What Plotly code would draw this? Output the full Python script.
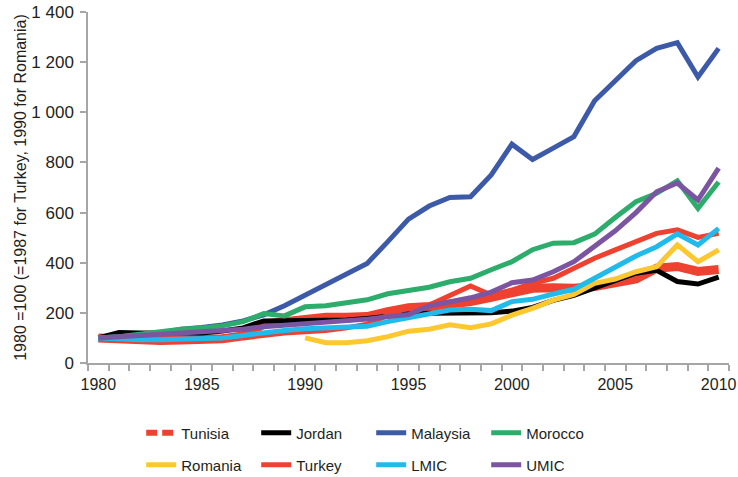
import plotly.graph_objects as go

years = list(range(1980, 2011))

tunisia = [100, 95, 90, 90, 92, 93, 97, 108, 155, 165,
           178, 182, 182, 185, 205, 220, 225, 232, 245, 262,
           280, 298, 300, 298, 305, 322, 335, 378, 385, 365, 373]
jordan = [100, 122, 120, 120, 122, 120, 128, 140, 168, 168,
          170, 172, 172, 178, 188, 195, 198, 200, 200, 200,
          207, 222, 250, 270, 300, 330, 358, 370, 325, 315, 343]
malaysia = [100, 105, 110, 120, 135, 142, 152, 168, 192, 228,
            270, 310, 352, 397, 484, 574, 626, 660, 663, 750,
            873, 812, 857, 903, 1046, 1129, 1206, 1255, 1278, 1141, 1255]
morocco = [100, 105, 115, 125, 135, 140, 148, 165, 197, 188,
           224, 228, 240, 252, 276, 291, 302, 324, 338, 372,
           404, 452, 478, 480, 514, 580, 643, 677, 727, 617, 722]
romania = [None] * 10 + [100, 81, 81, 89, 105, 127, 135, 152, 141, 156,
                         191, 218, 251, 274, 318, 335, 364, 384, 471, 404, 451]
turkey = [None] * 7 + [100, 112, 120,
                       125, 130, 140, 155, 190, 222, 231, 271, 307, 271,
                       291, 318, 338, 378, 418, 451, 484, 517, 531, 501, 517]
lmic = [100, 95, 93, 93, 94, 95, 100, 110, 122, 130,
        137, 139, 140, 147, 165, 180, 198, 211, 214, 209,
        245, 254, 275, 294, 338, 384, 427, 464, 515, 471, 537]
umic = [100, 105, 108, 112, 118, 122, 126, 135, 145, 150,
        158, 160, 165, 175, 185, 193, 228, 245, 260, 283,
        320, 331, 364, 404, 466, 527, 600, 683, 718, 650, 777]

x_tick_years = [1980, 1985, 1990, 1995, 2000, 2005, 2010]
y_ticks = [0, 200, 400, 600, 800, 1000, 1200, 1400]

RED = "#EE4130"
series = [
    ("Jordan", jordan, "#000000", "legend"),
    ("Malaysia", malaysia, "#3C5AA8", "legend"),
    ("Morocco", morocco, "#2DAD6C", "legend"),
    ("Romania", romania, "#FDC82F", "legend2"),
    ("Turkey", turkey, RED, "legend2"),
    ("LMIC", lmic, "#20BBEB", "legend2"),
    ("UMIC", umic, "#7B54A2", "legend2"),
]

FONT = "Liberation Sans, Arial, Helvetica, sans-serif"
TXT = "#231F20"
AX = "#A6A6A6"
fig = go.Figure()

# Tunisia: legend entry (dashed) + drawn line (thick)
fig.add_trace(go.Scatter(x=[None], y=[None], mode="lines", name="Tunisia",
                         line=dict(color=RED, width=6, dash="11px,5px"),
                         legend="legend"))
fig.add_trace(go.Scatter(x=years, y=tunisia, mode="lines", name="Tunisia",
                         line=dict(color=RED, width=9), showlegend=False))
for name, vals, col, lg in series:
    fig.add_trace(go.Scatter(x=years, y=vals, mode="lines", name=name,
                             line=dict(color=col, width=5), legend=lg,
                             connectgaps=False))

legend_common = dict(orientation="h", xanchor="left", yanchor="middle",
                     entrywidth=70, entrywidthmode="pixels",
                     font=dict(family=FONT, size=15, color=TXT),
                     bgcolor="rgba(0,0,0,0)", traceorder="normal")

fig.update_layout(
    template="none",
    width=738, height=477,
    paper_bgcolor="white", plot_bgcolor="white",
    margin=dict(l=88, r=9, t=12, b=114, autoexpand=False),
    separators=". ",
    font=dict(family=FONT, size=15, color=TXT),
    xaxis=dict(range=[1979.5, 2010.5], tickvals=x_tick_years,
               automargin=False,
               ticks="outside", ticklen=6, tickcolor="rgba(0,0,0,0)",
               showline=True, linecolor=AX, linewidth=1.5,
               showgrid=False, zeroline=False,
               tickfont=dict(family=FONT, size=16, color=TXT),
               minor=dict(tickvals=[y + 0.5 for y in range(1979, 2011)],
                          ticks="outside", ticklen=6, tickcolor=AX,
                          tickwidth=1.5, showgrid=False)),
    yaxis=dict(range=[0, 1400], tickvals=y_ticks, tickformat=",d",
               automargin=False, ticklabelstandoff=3,
               ticks="outside", ticklen=6, tickcolor=AX, tickwidth=1.5,
               showline=True, linecolor=AX, linewidth=1.5,
               showgrid=False, zeroline=False,
               tickfont=dict(family=FONT, size=17, color=TXT),
               title=dict(text="1980 =100 (=1987 for Turkey, 1990 for Romania)",
                          font=dict(family=FONT, size=16, color=TXT),
                          standoff=1)),
    legend=dict(x=0.083, y=-0.1994, **legend_common),
    legend2=dict(x=0.083, y=-0.2906, **legend_common),
)

fig.write_html("out.html",
               config={"displayModeBar": False},
               post_script="document.body.style.margin='0';"
                           "document.body.style.padding='0';")
